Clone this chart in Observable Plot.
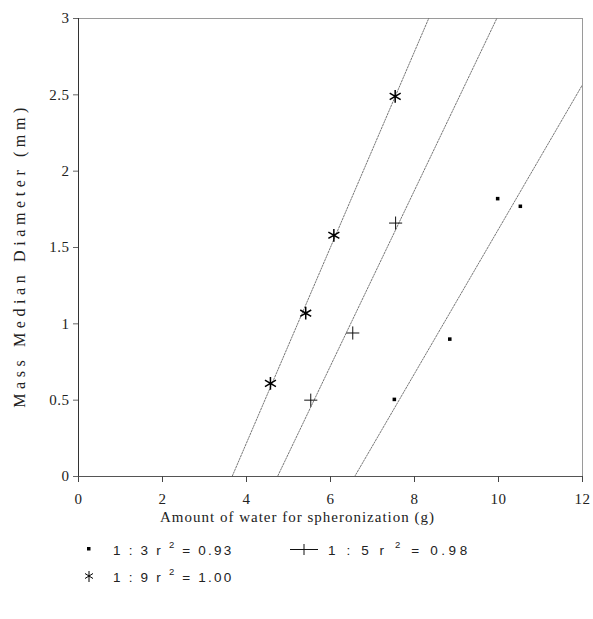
<!DOCTYPE html>
<html><head><meta charset="utf-8">
<script src="https://cdn.jsdelivr.net/npm/d3@7"></script>
<script src="https://cdn.jsdelivr.net/npm/@observablehq/plot@0.6"></script>
<style>
body{margin:0;background:#fff;}
#wrap{position:relative;width:593px;height:619px;overflow:hidden;}
.leg{position:absolute;display:flex;align-items:center;font-family:"Liberation Sans",Arial,sans-serif;font-size:13.5px;color:#222;white-space:nowrap;}
.leg sup{font-size:9.5px;position:relative;top:-1px;}
</style></head><body><div id="wrap"></div>
<script>
// Series (ratio), fit quality
const series = ["1 : 3", "1 : 5", "1 : 9"];
const r2 = ["0.93", "0.98", "1.00"];
// Amount of water (g) and mass median diameter (mm), per series
const water13 = [7.52, 8.84, 9.98, 10.52];
const mmd13   = [0.505, 0.90, 1.82, 1.77];
const water15 = [5.53, 6.53, 7.55];
const mmd15   = [0.50, 0.94, 1.66];
const water19 = [4.57, 5.41, 6.08, 7.54];
const mmd19   = [0.61, 1.07, 1.58, 2.49];
// Axis ticks
const xTicks = [0, 2, 4, 6, 8, 10, 12];
const yTicks = [0, 0.5, 1, 1.5, 2, 2.5, 3];
const xTitle = "Amount of water for spheronization (g)";
const yTitle = "Mass Median Diameter (mm)";

const toRows = (xs, ys, s) => xs.map((x, i) => ({x, y: ys[i], s}));
const pts13 = toRows(water13, mmd13, series[0]);
const pts15 = toRows(water15, mmd15, series[1]);
const pts19 = toRows(water19, mmd19, series[2]);

// least-squares fit, drawn across the x domain and clipped to the frame
function fitLine(rows) {
  const mx = d3.mean(rows, d => d.x), my = d3.mean(rows, d => d.y);
  const sxy = d3.sum(rows, d => (d.x - mx) * (d.y - my));
  const sxx = d3.sum(rows, d => (d.x - mx) ** 2);
  const m = sxy / sxx, b = my - m * mx;
  const [x0, x1] = d3.extent(xTicks);
  return [{x: x0, y: m * x0 + b}, {x: x1, y: m * x1 + b}];
}

const lineStyle = {x: "x", y: "y", stroke: "#666", strokeWidth: 0.9, strokeDasharray: "1.6,1.4", clip: true};

const chart = Plot.plot({
  width: 593,
  height: 540,
  marginLeft: 78,
  marginRight: 11,
  marginTop: 18,
  marginBottom: 64,
  style: {fontFamily: "'Liberation Serif', 'DejaVu Serif', serif", fontSize: "15px", color: "#222", background: "#fff"},
  x: {domain: [0, 12]},
  y: {domain: [0, 3]},
  marks: [
    Plot.frame({stroke: "#9a9a9a", strokeWidth: 1}),
    Plot.ruleX([0], {stroke: "#333", strokeWidth: 1}),
    Plot.ruleY([0], {stroke: "#555", strokeWidth: 1}),
    Plot.line(fitLine(pts13), lineStyle),
    Plot.line(fitLine(pts15), lineStyle),
    Plot.line(fitLine(pts19), lineStyle),
    Plot.axisX({ticks: xTicks, tickSize: 6, tickPadding: 11, tickFormat: d => String(d), label: null, stroke: "#444", fill: "#222"}),
    Plot.axisY({ticks: yTicks, tickSize: 5, tickPadding: 4, tickFormat: d => String(d), label: null, stroke: "#666", fill: "#222"}),
    Plot.text([xTitle], {text: d => d, frameAnchor: "bottom", textAnchor: "middle", dx: -33, dy: 45, fontSize: 15, fill: "#222"}),
    Plot.text([yTitle], {text: d => d, frameAnchor: "left", textAnchor: "middle", rotate: -90, dx: -59, dy: 8, fontSize: 16, fill: "#222"}),
    Plot.dot(pts13, {x: "x", y: "y", symbol: "square", r: 2, fill: "#000", stroke: "none"}),
    Plot.dot(pts15, {x: "x", y: "y", symbol: "plus", r: 4.3, stroke: "#111", strokeWidth: 1}),
    Plot.dot(pts19, {x: "x", y: "y", symbol: "asterisk", r: 6, stroke: "#000", strokeWidth: 1.5})
  ]
});

const sel = d3.select(chart);
sel.selectAll("g[aria-label='text'] text").each(function() {
  const t = this.textContent;
  d3.select(this).attr("letter-spacing", t === yTitle ? "4.6" : "1");
});
sel.selectAll("g[aria-label='x-axis tick label'] text, g[aria-label='y-axis tick label'] text").attr("letter-spacing", "0.5");

const wrap = document.getElementById("wrap");
chart.style.position = "absolute";
chart.style.left = "0px";
chart.style.top = "0px";
wrap.appendChild(chart);

// legend (below the chart)
const symDot = `<svg width="10" height="10"><rect x="3" y="3" width="3.5" height="3.5" fill="#000"/></svg>`;
const symPlus = `<svg width="28" height="12"><path d="M0 6.5H28M14 1V12" stroke="#111" stroke-width="1"/></svg>`;
const symAst = `<svg width="10" height="12"><path d="M5 1V12M1 3.5L9 8.5M1 8.5L9 3.5" stroke="#000" stroke-width="1"/></svg>`;
const items = [
  {sym: symDot, i: 0, left: 84, top: 540, gap: 19, ls: 2.2},
  {sym: symPlus, i: 1, left: 290, top: 540, gap: 10, ls: 3.6},
  {sym: symAst, i: 2, left: 84, top: 567, gap: 19, ls: 2.2}
];
for (const it of items) {
  const div = document.createElement("div");
  div.className = "leg";
  div.style.left = it.left + "px";
  div.style.top = it.top + "px";
  div.style.letterSpacing = it.ls + "px";
  div.innerHTML = it.sym + `<span style="margin-left:${it.gap}px">${series[it.i]} r <sup>2</sup> = ${r2[it.i]}</span>`;
  wrap.appendChild(div);
}
</script></body></html>
